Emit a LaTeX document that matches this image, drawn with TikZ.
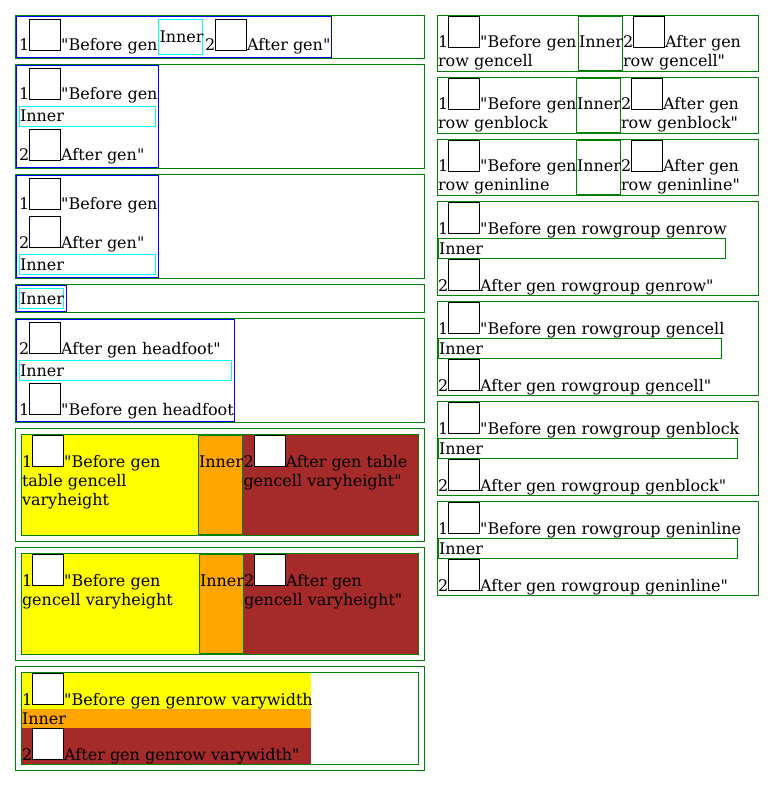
\documentclass[tikz,border=0pt]{standalone}
\usepackage{fontspec}
\setmainfont[Ligatures=TeXOff]{DejaVu Serif}
\definecolor{cgreen}{RGB}{0,128,0}
\definecolor{cblue}{RGB}{0,0,255}
\definecolor{ccyan}{RGB}{0,255,255}
\definecolor{cyellow}{RGB}{255,255,0}
\definecolor{corange}{RGB}{255,165,0}
\definecolor{cbrown}{RGB}{165,42,42}
\newcommand\ibox{\raisebox{1pt}{\setlength\fboxsep{0pt}\setlength\fboxrule{1pt}\fcolorbox{black}{white}{\vrule width 0pt height 30pt\hspace*{30pt}}}}
\begin{document}
\begin{tikzpicture}[x=1pt,y=-1pt,line width=1pt,
  txt/.style={anchor=base west,inner sep=0pt,outer sep=0pt,font=\fontsize{16}{19}\selectfont},
  gbox/.style={draw=cgreen},
  bbox/.style={draw=cblue},
  cbox/.style={draw=ccyan}]
\useasboundingbox[fill=white] (0,0) rectangle (774,786);

% ---------- left 1
\draw[gbox] (15.5,15.5) rectangle (424.5,58.5);
\draw[bbox] (16.5,16.5) rectangle (331.5,57.5);
\draw[cbox] (158.5,19.5) rectangle (202.5,54.5);
\node[txt] (l1a) at (19,51) {1\ibox"Before gen};
\node[txt] (l1b) at (159.5,43) {Inner};
\node[txt] (l1c) at (205,51) {2\ibox After gen"};

% ---------- left 2
\draw[gbox] (15.5,64.5) rectangle (424.5,168.5);
\draw[bbox] (16.5,65.5) rectangle (158.5,167.5);
\draw[cbox] (19.5,106.5) rectangle (155.5,126.5);
\node[txt] (l2a) at (19,100) {1\ibox"Before gen};
\node[txt] (l2b) at (20,122) {Inner};
\node[txt] (l2c) at (19,161) {2\ibox After gen"};

% ---------- left 3
\draw[gbox] (15.5,174.5) rectangle (424.5,278.5);
\draw[bbox] (16.5,175.5) rectangle (158.5,277.5);
\draw[cbox] (19.5,254.5) rectangle (155.5,274.5);
\node[txt] (l3a) at (19,210) {1\ibox"Before gen};
\node[txt] (l3b) at (19,248) {2\ibox After gen"};
\node[txt] (l3c) at (20,270) {Inner};

% ---------- left 4
\draw[gbox] (15.5,284.5) rectangle (424.5,312.5);
\draw[bbox] (16.5,285.5) rectangle (66.5,311.5);
\draw[cbox] (19.5,288.5) rectangle (63.5,308.5);
\node[txt] (l4a) at (20,304) {Inner};

% ---------- left 5
\draw[gbox] (15.5,318.5) rectangle (424.5,422.5);
\draw[bbox] (16.5,319.5) rectangle (234.5,421.5);
\draw[cbox] (19.5,360.5) rectangle (231.5,380.5);
\node[txt] (l5a) at (19,354) {2\ibox After gen headfoot"};
\node[txt] (l5b) at (20,376) {Inner};
\node[txt] (l5c) at (19,415) {1\ibox"Before gen headfoot};

% ---------- left 6
\draw[gbox] (15.5,428.5) rectangle (424.5,541.5);
\fill[cyellow] (22,435) rectangle (198,535);
\fill[corange] (198,435) rectangle (243,535);
\fill[cbrown] (243,435) rectangle (418,535);
\draw[gbox] (21.5,434.5) rectangle (418.5,535.5);
\draw[gbox] (198.5,435.5) rectangle (242.5,534.5);
\node[txt] (l6a) at (22,467) {1\ibox"Before gen};
\node[txt] (l6b) at (22,486) {table gencell};
\node[txt] (l6c) at (22,505) {varyheight};
\node[txt] (l6d) at (199,467) {Inner};
\node[txt] (l6e) at (243.5,467) {2\ibox After gen table};
\node[txt] (l6f) at (243.5,486) {gencell varyheight"};

% ---------- left 7
\draw[gbox] (15.5,547.5) rectangle (424.5,660.5);
\fill[cyellow] (22,554) rectangle (199,654);
\fill[corange] (199,554) rectangle (244,654);
\fill[cbrown] (244,554) rectangle (418,654);
\draw[gbox] (21.5,553.5) rectangle (418.5,654.5);
\draw[gbox] (199.5,554.5) rectangle (243.5,653.5);
\node[txt] (l7a) at (22,586) {1\ibox"Before gen};
\node[txt] (l7b) at (22,605) {gencell varyheight};
\node[txt] (l7c) at (200,586) {Inner};
\node[txt] (l7d) at (244,586) {2\ibox After gen};
\node[txt] (l7e) at (244,605) {gencell varyheight"};

% ---------- left 8
\draw[gbox] (15.5,666.5) rectangle (424.5,770.5);
\fill[cyellow] (22,673) rectangle (311,709);
\fill[corange] (22,709) rectangle (311,728);
\fill[cbrown] (22,728) rectangle (311,764);
\draw[gbox] (21.5,672.5) rectangle (418.5,764.5);
\node[txt] (l8a) at (22,705) {1\ibox"Before gen genrow varywidth};
\node[txt] (l8b) at (22,724) {Inner};
\node[txt] (l8c) at (22,760) {2\ibox After gen genrow varywidth"};

% ---------- right 1
\draw[gbox] (437.5,15.5) rectangle (758.5,71.5);
\draw[gbox] (578.5,16.5) rectangle (622.5,70.5);
\node[txt] (r1a) at (438,48) {1\ibox"Before gen};
\node[txt] (r1b) at (438,67) {row gencell};
\node[txt] (r1c) at (579,48) {Inner};
\node[txt] (r1d) at (623,48) {2\ibox After gen};
\node[txt] (r1e) at (623,67) {row gencell"};

% ---------- right 2
\draw[gbox] (437.5,77.5) rectangle (758.5,133.5);
\draw[gbox] (576.5,78.5) rectangle (620.5,132.5);
\node[txt] (r2a) at (438,110) {1\ibox"Before gen};
\node[txt] (r2b) at (438,129) {row genblock};
\node[txt] (r2c) at (577,110) {Inner};
\node[txt] (r2d) at (621,110) {2\ibox After gen};
\node[txt] (r2e) at (621,129) {row genblock"};

% ---------- right 3
\draw[gbox] (437.5,139.5) rectangle (758.5,195.5);
\draw[gbox] (576.5,140.5) rectangle (620.5,194.5);
\node[txt] (r3a) at (438,172) {1\ibox"Before gen};
\node[txt] (r3b) at (438,191) {row geninline};
\node[txt] (r3c) at (577,172) {Inner};
\node[txt] (r3d) at (621,172) {2\ibox After gen};
\node[txt] (r3e) at (621,191) {row geninline"};

% ---------- right 4
\draw[gbox] (437.5,201.5) rectangle (758.5,295.5);
\draw[gbox] (438.5,238.5) rectangle (725.5,258.5);
\node[txt] (r4a) at (438,234) {1\ibox"Before gen rowgroup genrow};
\node[txt] (r4b) at (439,254) {Inner};
\node[txt] (r4c) at (438,291) {2\ibox After gen rowgroup genrow"};

% ---------- right 5
\draw[gbox] (437.5,301.5) rectangle (758.5,395.5);
\draw[gbox] (438.5,338.5) rectangle (721.5,358.5);
\node[txt] (r5a) at (438,334) {1\ibox"Before gen rowgroup gencell};
\node[txt] (r5b) at (439,354) {Inner};
\node[txt] (r5c) at (438,391) {2\ibox After gen rowgroup gencell"};

% ---------- right 6
\draw[gbox] (437.5,401.5) rectangle (758.5,495.5);
\draw[gbox] (438.5,438.5) rectangle (737.5,458.5);
\node[txt] (r6a) at (438,434) {1\ibox"Before gen rowgroup genblock};
\node[txt] (r6b) at (439,454) {Inner};
\node[txt] (r6c) at (438,491) {2\ibox After gen rowgroup genblock"};

% ---------- right 7
\draw[gbox] (437.5,501.5) rectangle (758.5,595.5);
\draw[gbox] (438.5,538.5) rectangle (737.5,558.5);
\node[txt] (r7a) at (438,534) {1\ibox"Before gen rowgroup geninline};
\node[txt] (r7b) at (439,554) {Inner};
\node[txt] (r7c) at (438,591) {2\ibox After gen rowgroup geninline"};
\end{tikzpicture}
\end{document}
